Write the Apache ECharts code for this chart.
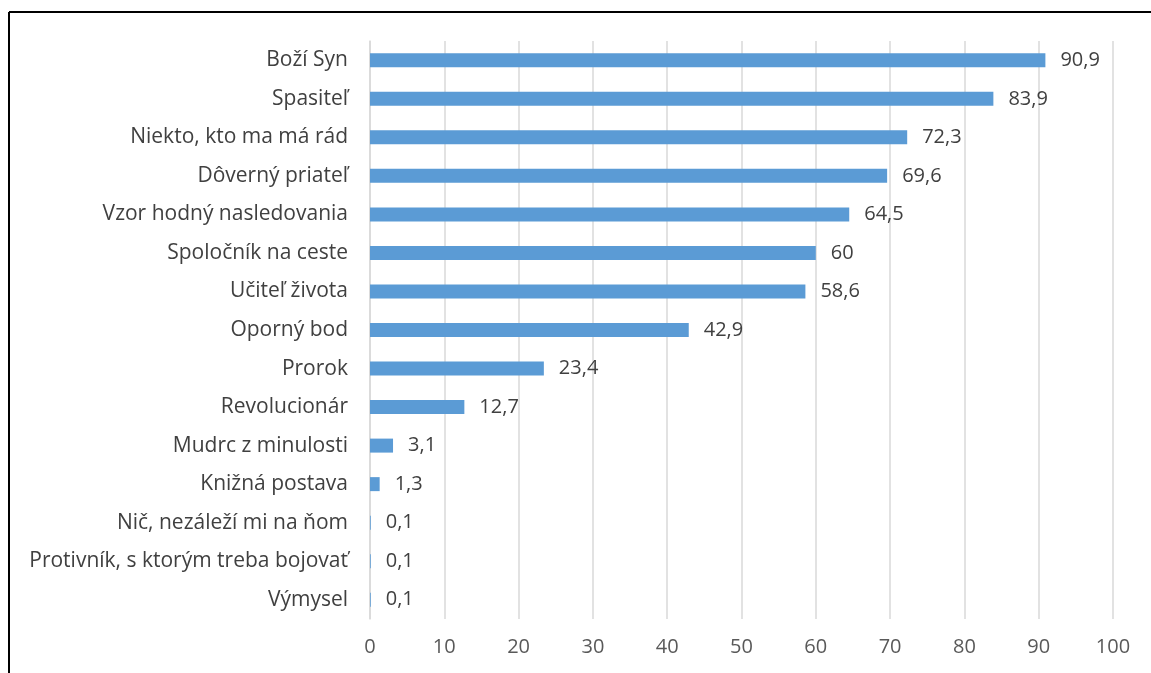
<!DOCTYPE html>
<html>
<head>
<meta charset="utf-8">
<script src="https://cdn.jsdelivr.net/npm/echarts@6/dist/echarts.min.js"></script>
<style>
  html, body { margin: 0; padding: 0; background: #fff; }
  #chart { width: 1151px; height: 673px; }
</style>
</head>
<body>
<div id="chart"></div>
<script>
// kategórie zhora nadol
const categories = [
    'Boží Syn', 'Spasiteľ', 'Niekto, kto ma má rád', 'Dôverný priateľ',
    'Vzor hodný nasledovania', 'Spoločník na ceste', 'Učiteľ života',
    'Oporný bod', 'Prorok', 'Revolucionár', 'Mudrc z minulosti',
    'Knižná postava', 'Nič, nezáleží mi na ňom',
    'Protivník, s ktorým treba bojovať', 'Výmysel'
]
const values = [90.9, 83.9, 72.3, 69.6, 64.5, 60, 58.6, 42.9, 23.4, 12.7, 3.1, 1.3, 0.1, 0.1, 0.1]
const xTicks = [0, 10, 20, 30, 40, 50, 60, 70, 80, 90, 100]

const fontFamily = '"Open Sans", "Noto Sans", sans-serif'
const fontSize = 20

let chart = echarts.init(document.getElementById('chart'), null, {renderer: 'canvas'})

chart.setOption({
    animation: false,
    backgroundColor: '#fff',
    textStyle: {fontFamily: fontFamily},
    grid: {left: 370, right: 38, top: 41, bottom: 54, containLabel: false},
    xAxis: {
        type: 'value',
        min: xTicks[0],
        max: xTicks[xTicks.length - 1],
        interval: 10,
        axisLine: {show: false},
        axisTick: {show: false},
        splitLine: {lineStyle: {color: '#d9d9d9', width: 1.5}},
        axisLabel: {color: '#595959', fontSize: fontSize, margin: 18, fontFamily: fontFamily}
    },
    yAxis: {
        type: 'category',
        inverse: true,
        data: categories,
        axisLine: {show: true, lineStyle: {color: '#d9d9d9', width: 1.5}},
        axisTick: {show: false},
        axisLabel: {color: '#404040', fontSize: 21, margin: 22, fontFamily: fontFamily}
    },
    series: [{
        type: 'bar',
        data: values,
        barWidth: 14,
        itemStyle: {color: '#5b9bd5'},
        label: {
            show: true,
            position: 'right',
            distance: 15,
            color: '#404040',
            fontSize: fontSize,
            fontFamily: fontFamily,
            formatter: p => String(p.value).replace('.', ',')
        }
    }],
    graphic: [
        {type: 'line', shape: {x1: 9, y1: 12, x2: 1151, y2: 12}, style: {stroke: '#000', lineWidth: 2}},
        {type: 'line', shape: {x1: 9, y1: 12, x2: 9, y2: 673}, style: {stroke: '#000', lineWidth: 2}}
    ]
})
</script>
</body>
</html>
